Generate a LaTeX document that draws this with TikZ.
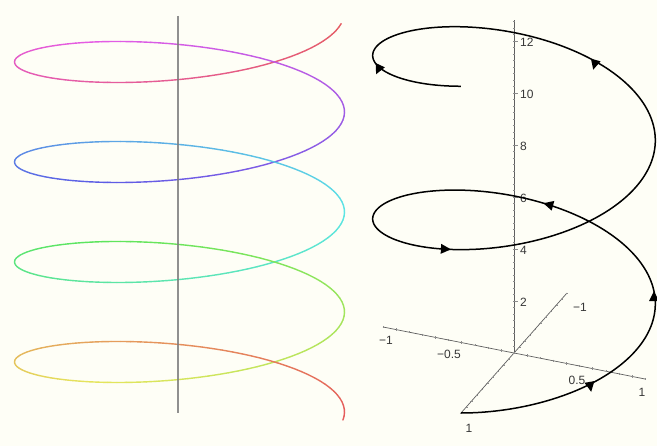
\documentclass[tikz,border=0pt]{standalone}
\usepackage{fontspec}
\setmainfont{Liberation Sans}
\usetikzlibrary{shapes.geometric}
\definecolor{bgc}{RGB}{254,254,246}
\definecolor{axgray}{RGB}{95,95,95}
\definecolor{tgray}{RGB}{140,140,140}
\definecolor{lgray}{RGB}{125,125,125}
\definecolor{lbl}{RGB}{55,55,55}
\tikzset{
  lab/.style={font=\fontsize{12}{12}\selectfont, text=lbl, inner sep=0pt},
  arr/.style={isosceles triangle, fill=black, draw=none, inner sep=0pt,
    minimum width=10pt, minimum height=10pt, isosceles triangle stretches},
  axline/.style={draw=axgray, line width=0.7pt},
  tickmark/.style={draw=tgray, line width=0.4pt},
  helixline/.style={draw=black, line width=1.5pt},
}
\begin{document}
\begin{tikzpicture}[x=1pt,y=-1pt]
\fill[bgc] (0,0) rectangle (657,446);
\useasboundingbox (0,0) rectangle (657,446);

% ---------- left: coloured helix ----------
\foreach \i in {0,...,398}{
  \pgfmathsetmacro\pa{0.2+\i*0.0628319}
  \pgfmathsetmacro\pb{\pa+0.0628319}
  \pgfmathsetmacro\hu{max(0,1-(\pa+0.0314)/25.1327)}
  \definecolor{hc}{hsb}{\hu,0.6,0.9}
  \draw[hc, line width=1.4pt, line cap=round]
    ({179.5+165*cos(\pa r)},{12+15.915*\pa+42.5*sin(\pa r)}) --
    ({179.5+165*cos(\pb r)},{12+15.915*\pb+42.5*sin(\pb r)});
}
\coordinate (Lt) at (178,16);
\coordinate (Lb) at (178,413);
\draw[lgray, line width=1.6pt, opacity=0.85] (Lt) -- (Lb);

% ---------- right: 3D axes ----------
\coordinate (O) at (514,353);
\coordinate (Xp) at (461,413);
\coordinate (Xm) at (567,293);
\coordinate (Ym) at (383,327);
\coordinate (Yp) at (645,379);
\coordinate (Zt) at (514,20);
\draw[axline] (Xm) -- (Xp);
\draw[axline] (Ym) -- (Yp);
\draw[axline] (O) -- (Zt);
\foreach \k in {1,...,51}{
  \draw[tickmark] (513,{353-6.5*\k}) -- (515,{353-6.5*\k});
}
\foreach \z in {2,4,...,12}{
  \draw[tickmark] (514,{353-26*\z}) -- (517.5,{353-26*\z});
}
\foreach \s in {-10,...,10}{
  \draw[tickmark] ({514+13.1*\s},{353+2.6*\s-1.2}) -- ({514+13.1*\s},{353+2.6*\s+1.2});
  \draw[tickmark] ({514-5.3*\s-1.2},{353+6*\s}) -- ({514-5.3*\s+1.2},{353+6*\s});
}
\node[lab, anchor=west] (z12) at (520,42) {12};
\node[lab, anchor=west] (z10) at (520,94) {10};
\node[lab, anchor=west] (z8) at (520,146) {8};
\node[lab, anchor=west] (z6) at (520,198) {6};
\node[lab, anchor=west] (z4) at (520,250) {4};
\node[lab, anchor=west] (z2) at (520,302) {2};
\node[lab] (ym1) at (386,340) {−1};
\node[lab] (ym05) at (449,354) {−0.5};
\node[lab] (yp05) at (577,380) {0.5};
\node[lab] (yp1) at (642,392) {1};
\node[lab] (xm1) at (580,307) {−1};
\node[lab] (xp1) at (469,428) {1};

% ---------- right: black helix ----------
\draw[helixline] plot[domain=0:12.5664, samples=400, smooth, variable=\t]
  ({514-53*cos(\t r)+131*sin(\t r)},{353+60*cos(\t r)+26*sin(\t r)-26*\t});

\node[arr, rotate=-80] (a1) at (590,385) {};
\node[arr, rotate=90] (a2) at (654,298) {};
\node[arr, rotate=165] (a3) at (550,205) {};
\node[arr, rotate=-3] (a4) at (444,249) {};
\node[arr, rotate=-105] (a5) at (595,63) {};
\node[arr, rotate=-115] (a6) at (379,68) {};
\end{tikzpicture}
\end{document}
